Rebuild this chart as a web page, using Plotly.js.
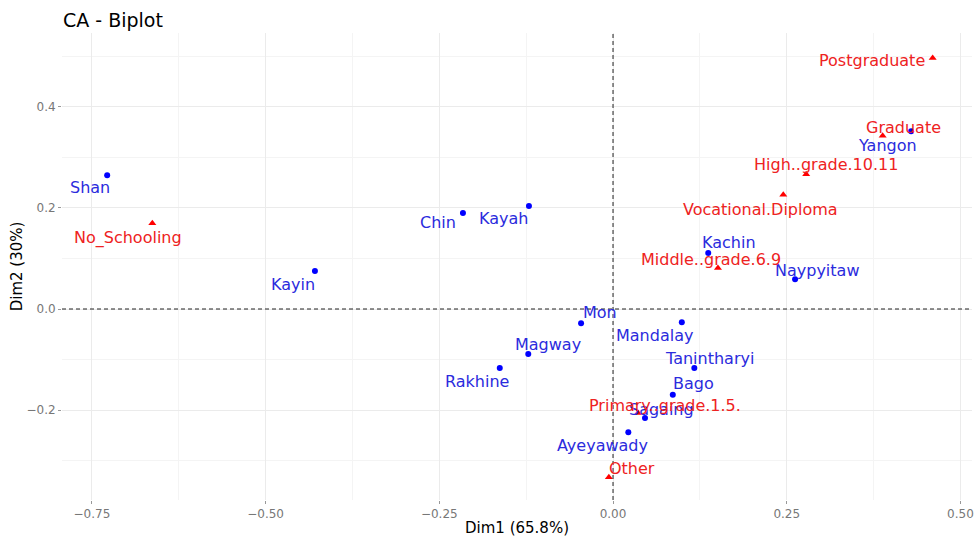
<!DOCTYPE html>
<html>
<head>
<meta charset="utf-8">
<script src="https://cdn.plot.ly/plotly-3.0.1.min.js"></script>
<style>html,body{margin:0;padding:0;background:#fff;}#chart{width:974px;height:537px;}</style>
</head>
<body>
<div id="chart"></div>
<script>
// Row points (regions)
const rowNames = ["Shan","Chin","Kayah","Kayin","Mon","Magway","Rakhine","Mandalay","Tanintharyi","Bago","Sagaing","Ayeyawady","Kachin","Naypyitaw","Yangon"];
const rowDim1 = [-0.728,-0.216,-0.121,-0.429,-0.046,-0.122,-0.163,0.099,0.117,0.086,0.046,0.022,0.137,0.262,0.429];
const rowDim2 = [0.265,0.190,0.204,0.075,-0.028,-0.089,-0.117,-0.026,-0.117,-0.170,-0.216,-0.244,0.111,0.059,0.352];

// Column points (education levels)
const colNames = ["Postgraduate","Graduate","High..grade.10.11","Vocational.Diploma","Middle..grade.6.9","Primary..grade.1.5.","Other","No_Schooling"];
const colDim1 = [0.460,0.388,0.278,0.245,0.151,0.036,-0.006,-0.663];
const colDim2 = [0.497,0.343,0.267,0.226,0.081,-0.206,-0.333,0.170];

// Label offsets in pixels (repel-like placement), separate from data
const rowLabDx = [-17,-25,-25,-22,19,20,-23,-27,15,21,17,-26,21,22,-24];
const rowLabDy = [-12,-9,-13,-13,11,9,-13,-13,10,11,9,-13,10,9,-14];
const colLabDx = [-61,21,20,-23,-7,27,23,-24];
const colLabDy = [-2,8,10,-15,9,8,9,-15];

const FONT = "DejaVu Sans, Arial, sans-serif";

const traces = [
  {x: rowDim1, y: rowDim2, type: "scatter", mode: "markers",
   marker: {color: "#0000ff", size: 6, symbol: "circle"}, hoverinfo: "text", text: rowNames, showlegend: false},
  {x: colDim1, y: colDim2, type: "scatter", mode: "markers",
   marker: {color: "#ff0000", size: 7, symbol: "triangle-up"}, hoverinfo: "text", text: colNames, showlegend: false}
];

const annotations = [];
rowNames.forEach((n, i) => annotations.push({
  x: rowDim1[i], y: rowDim2[i], xref: "x", yref: "y", text: n, showarrow: false,
  xshift: rowLabDx[i], yshift: rowLabDy[i], font: {family: FONT, size: 16, color: "#2b2bdd"}
}));
colNames.forEach((n, i) => annotations.push({
  x: colDim1[i], y: colDim2[i], xref: "x", yref: "y", text: n, showarrow: false,
  xshift: colLabDx[i], yshift: colLabDy[i], font: {family: FONT, size: 16, color: "#ee2222"}
}));

const layout = {
  width: 974, height: 537,
  margin: {l: 62, r: 2, t: 33, b: 37},
  paper_bgcolor: "#ffffff", plot_bgcolor: "#ffffff",
  title: {text: "CA - Biplot", x: 63/974, xanchor: "left", xref: "container", y: 1 - 20/537, yanchor: "middle", yref: "container",
          font: {family: FONT, size: 19, color: "#000000"}},
  xaxis: {
    range: [-0.793, 0.5166], tick0: 0, dtick: 0.25, tickformat: ".2f",
    showgrid: true, gridcolor: "#ebebeb", gridwidth: 1, zeroline: false, showline: false,
    ticks: "outside", ticklen: 3, tickcolor: "#999999",
    tickfont: {family: FONT, size: 12, color: "#777777"},
    minor: {dtick: 0.125, showgrid: true, gridcolor: "#f4f4f4", gridwidth: 1},
    title: {text: "Dim1 (65.8%)", font: {family: FONT, size: 15, color: "#000000"}, standoff: 4}
  },
  yaxis: {
    range: [-0.3782, 0.5465], tick0: 0, dtick: 0.2, tickformat: ".1f",
    showgrid: true, gridcolor: "#ebebeb", gridwidth: 1, zeroline: false, showline: false,
    ticks: "outside", ticklen: 3, tickcolor: "#999999",
    tickfont: {family: FONT, size: 12, color: "#777777"},
    minor: {dtick: 0.1, showgrid: true, gridcolor: "#f4f4f4", gridwidth: 1},
    title: {text: "Dim2 (30%)", font: {family: FONT, size: 15, color: "#000000"}, standoff: 0}
  },
  shapes: [
    {type: "line", xref: "x", yref: "paper", x0: 0, x1: 0, y0: 0, y1: 1, line: {color: "#222222", width: 1, dash: "4px,3px"}},
    {type: "line", xref: "paper", yref: "y", x0: 0, x1: 1, y0: 0, y1: 0, line: {color: "#222222", width: 1, dash: "4px,3px"}}
  ],
  annotations: annotations,
  showlegend: false
};

Plotly.newPlot("chart", traces, layout, {displayModeBar: false, staticPlot: true});
</script>
</body>
</html>
